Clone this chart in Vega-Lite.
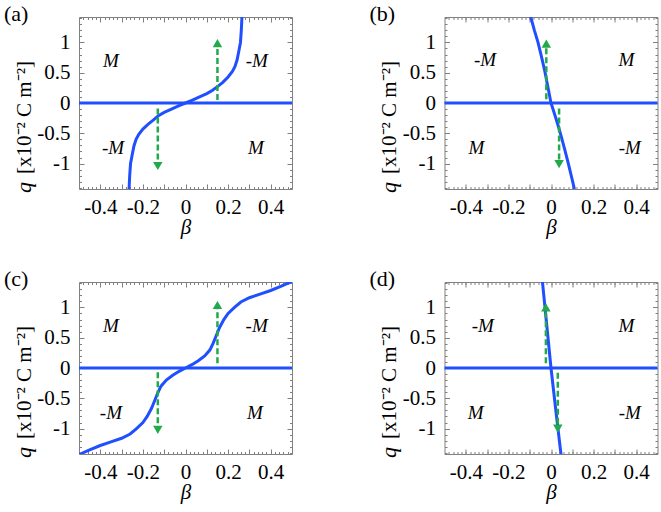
{
  "$schema": "https://vega.github.io/schema/vega-lite/v6.json",
  "background": "white",
  "padding": {"left": 3, "top": 2, "right": 2, "bottom": 2},
  "datasets": {
    "curves": [
      {"p":"a","beta":-0.265,"q":-1.42},{"p":"a","beta":-0.262,"q":-1.2},{"p":"a","beta":-0.258,"q":-1.0},{"p":"a","beta":-0.25,"q":-0.85},{"p":"a","beta":-0.242,"q":-0.71},{"p":"a","beta":-0.232,"q":-0.6},{"p":"a","beta":-0.22,"q":-0.52},{"p":"a","beta":-0.2,"q":-0.43},{"p":"a","beta":-0.175,"q":-0.35},{"p":"a","beta":-0.15,"q":-0.28},{"p":"a","beta":-0.127,"q":-0.21},{"p":"a","beta":-0.1,"q":-0.155},{"p":"a","beta":-0.066,"q":-0.1},{"p":"a","beta":-0.03,"q":-0.045},{"p":"a","beta":0,"q":0},{"p":"a","beta":0.03,"q":0.045},{"p":"a","beta":0.066,"q":0.1},{"p":"a","beta":0.1,"q":0.155},{"p":"a","beta":0.127,"q":0.21},{"p":"a","beta":0.15,"q":0.27},{"p":"a","beta":0.175,"q":0.34},{"p":"a","beta":0.2,"q":0.43},{"p":"a","beta":0.22,"q":0.52},{"p":"a","beta":0.232,"q":0.6},{"p":"a","beta":0.242,"q":0.71},{"p":"a","beta":0.25,"q":0.85},{"p":"a","beta":0.258,"q":1.0},{"p":"a","beta":0.262,"q":1.2},{"p":"a","beta":0.265,"q":1.42},
      {"p":"b","beta":-0.095,"q":1.42},{"p":"b","beta":-0.078,"q":1.2},{"p":"b","beta":-0.061,"q":1.0},{"p":"b","beta":-0.045,"q":0.77},{"p":"b","beta":-0.03,"q":0.54},{"p":"b","beta":-0.015,"q":0.27},{"p":"b","beta":0,"q":0},{"p":"b","beta":0.02,"q":-0.22},{"p":"b","beta":0.034,"q":-0.38},{"p":"b","beta":0.048,"q":-0.55},{"p":"b","beta":0.064,"q":-0.76},{"p":"b","beta":0.08,"q":-0.98},{"p":"b","beta":0.095,"q":-1.2},{"p":"b","beta":0.11,"q":-1.42},
      {"p":"c","beta":-0.5,"q":-1.43},{"p":"c","beta":-0.45,"q":-1.35},{"p":"c","beta":-0.4,"q":-1.28},{"p":"c","beta":-0.35,"q":-1.22},{"p":"c","beta":-0.3,"q":-1.16},{"p":"c","beta":-0.26,"q":-1.09},{"p":"c","beta":-0.23,"q":-1.0},{"p":"c","beta":-0.2,"q":-0.9},{"p":"c","beta":-0.18,"q":-0.8},{"p":"c","beta":-0.16,"q":-0.67},{"p":"c","beta":-0.145,"q":-0.54},{"p":"c","beta":-0.13,"q":-0.41},{"p":"c","beta":-0.115,"q":-0.3},{"p":"c","beta":-0.09,"q":-0.2},{"p":"c","beta":-0.06,"q":-0.12},{"p":"c","beta":-0.03,"q":-0.055},{"p":"c","beta":0,"q":0},{"p":"c","beta":0.03,"q":0.055},{"p":"c","beta":0.06,"q":0.12},{"p":"c","beta":0.09,"q":0.2},{"p":"c","beta":0.115,"q":0.3},{"p":"c","beta":0.13,"q":0.41},{"p":"c","beta":0.145,"q":0.54},{"p":"c","beta":0.16,"q":0.67},{"p":"c","beta":0.18,"q":0.8},{"p":"c","beta":0.2,"q":0.9},{"p":"c","beta":0.23,"q":1.0},{"p":"c","beta":0.26,"q":1.09},{"p":"c","beta":0.3,"q":1.16},{"p":"c","beta":0.35,"q":1.22},{"p":"c","beta":0.4,"q":1.28},{"p":"c","beta":0.45,"q":1.35},{"p":"c","beta":0.5,"q":1.43},
      {"p":"d","beta":-0.04,"q":1.42},{"p":"d","beta":-0.02,"q":0.71},{"p":"d","beta":0,"q":0},{"p":"d","beta":0.023,"q":-0.71},{"p":"d","beta":0.047,"q":-1.43}
    ],
    "arrows": [
      {"p":"a","x":0.15,"y0":0.05,"y1":0.99,"dir":"up"},{"p":"a","x":-0.13,"y0":-0.09,"y1":-1.04,"dir":"down"},
      {"p":"b","x":-0.022,"y0":0.06,"y1":0.98,"dir":"up"},{"p":"b","x":0.038,"y0":-0.09,"y1":-1.01,"dir":"down"},
      {"p":"c","x":0.15,"y0":0.08,"y1":1.04,"dir":"up"},{"p":"c","x":-0.13,"y0":-0.07,"y1":-1.02,"dir":"down"},
      {"p":"d","x":-0.024,"y0":0.08,"y1":1.0,"dir":"up"},{"p":"d","x":0.032,"y0":-0.08,"y1":-1.0,"dir":"down"}
    ],
    "labels": [
      {"p":"a","x":-0.35,"y":0.7,"t":"M"},{"p":"a","x":0.335,"y":0.7,"t":"-M"},{"p":"a","x":-0.34,"y":-0.75,"t":"-M"},{"p":"a","x":0.33,"y":-0.75,"t":"M"},
      {"p":"b","x":-0.31,"y":0.71,"t":"-M"},{"p":"b","x":0.354,"y":0.71,"t":"M"},{"p":"b","x":-0.35,"y":-0.75,"t":"M"},{"p":"b","x":0.37,"y":-0.75,"t":"-M"},
      {"p":"c","x":-0.35,"y":0.69,"t":"M"},{"p":"c","x":0.334,"y":0.69,"t":"-M"},{"p":"c","x":-0.35,"y":-0.75,"t":"-M"},{"p":"c","x":0.326,"y":-0.75,"t":"M"},
      {"p":"d","x":-0.32,"y":0.69,"t":"-M"},{"p":"d","x":0.354,"y":0.69,"t":"M"},{"p":"d","x":-0.354,"y":-0.75,"t":"M"},{"p":"d","x":0.37,"y":-0.75,"t":"-M"}
    ]
  },
  "columns": 2,
  "bounds": "flush",
  "spacing": {"row": 93, "column": 152.5},
  "concat": [
    {
      "width": 213, "height": 172,
      "title": {"text": "(a)", "anchor": "start", "frame": "group", "dx": -75, "dy": 5, "offset": -21, "baseline": "alphabetic", "font": "Liberation Serif", "fontSize": 22, "fontWeight": "normal", "color": "black"},
      "layer": [
        {"data": {"values": [{}]}, "mark": {"type": "rule", "color": "#1f4fff", "strokeWidth": 3}, "encoding": {"y": {"datum": 0, "type": "quantitative", "scale": {"domain": [-1.42, 1.42], "nice": false, "zero": false}, "axis": null}}},
        {"data": {"name": "curves"}, "transform": [{"filter": "datum.p == 'a'"}], "mark": {"type": "line", "color": "#1f4fff", "strokeWidth": 3, "clip": true},
         "encoding": {
           "x": {"field": "beta", "type": "quantitative", "scale": {"domain": [-0.5, 0.5], "nice": false, "zero": false}, "axis": {"orient": "bottom", "values": [-0.4,-0.3,-0.2,-0.1,0,0.1,0.2,0.3,0.4], "labelExpr": "round(datum.value*10) % 2 == 0 ? '' + datum.value : ''", "tickSize": -5, "labelPadding": 29, "labelBaseline": "alphabetic", "title": "β", "titleFontStyle": "italic", "titleFontSize": 21, "titleBaseline": "alphabetic", "titleY": 44}},
           "y": {"field": "q", "type": "quantitative", "scale": {"domain": [-1.42, 1.42], "nice": false, "zero": false}, "axis": {"orient": "left", "values": [-1,-0.5,0,0.5,1], "labelExpr": "'' + datum.value", "tickSize": -5, "labelPadding": 14, "title": "[x10⁻² C m⁻²]", "titleFontSize": 21, "titleBaseline": "alphabetic", "titleAngle": -90, "titleX": -49, "titleY": 100}}
         }},
        {"data": {"name": "arrows"}, "transform": [{"filter": "datum.p == 'a'"}], "mark": {"type": "rule", "color": "#22aa4a", "strokeWidth": 2.5, "strokeDash": [6, 3]},
         "encoding": {
           "x": {"field": "x", "type": "quantitative", "scale": {"domain": [-0.5, 0.5], "nice": false, "zero": false}, "axis": {"orient": "bottom", "values": [-0.48,-0.46,-0.44,-0.42,-0.4,-0.38,-0.36,-0.34,-0.32,-0.3,-0.28,-0.26,-0.24,-0.22,-0.2,-0.18,-0.16,-0.14,-0.12,-0.1,-0.08,-0.06,-0.04,-0.02,0,0.02,0.04,0.06,0.08,0.1,0.12,0.14,0.16,0.18,0.2,0.22,0.24,0.26,0.28,0.3,0.32,0.34,0.36,0.38,0.4,0.42,0.44,0.46,0.48], "labels": false, "tickSize": -2.5, "title": null}},
           "y": {"field": "y0", "type": "quantitative", "scale": {"domain": [-1.42, 1.42], "nice": false, "zero": false}, "axis": {"orient": "left", "values": [-1.4,-1.3,-1.2,-1.1,-1,-0.9,-0.8,-0.7,-0.6,-0.5,-0.4,-0.3,-0.2,-0.1,0,0.1,0.2,0.3,0.4,0.5,0.6,0.7,0.8,0.9,1,1.1,1.2,1.3,1.4], "labels": false, "tickSize": -2.5, "title": "q", "titleFontStyle": "italic", "titleFontSize": 22, "titleBaseline": "alphabetic", "titleAngle": -90, "titleX": -49, "titleY": 170}},
           "y2": {"field": "y1"}
         }},
        {"data": {"name": "arrows"}, "transform": [{"filter": "datum.p == 'a'"}], "mark": {"type": "point", "filled": true, "color": "#22aa4a", "size": 90, "opacity": 1},
         "encoding": {
           "x": {"field": "x", "type": "quantitative", "scale": {"domain": [-0.5, 0.5], "nice": false, "zero": false}, "axis": {"orient": "top", "values": [-0.4,-0.3,-0.2,-0.1,0,0.1,0.2,0.3,0.4], "labels": false, "tickSize": -5, "title": null}},
           "y": {"field": "y1", "type": "quantitative", "scale": {"domain": [-1.42, 1.42], "nice": false, "zero": false}, "axis": {"orient": "right", "values": [-1,-0.5,0,0.5,1], "labels": false, "tickSize": -5, "title": null}},
           "shape": {"field": "dir", "type": "nominal", "scale": {"domain": ["up", "down"], "range": ["triangle-up", "triangle-down"]}, "legend": null}
         }},
        {"data": {"name": "labels"}, "transform": [{"filter": "datum.p == 'a'"}], "mark": {"type": "text", "font": "Liberation Serif", "fontStyle": "italic", "fontSize": 19, "color": "black"},
         "encoding": {
           "x": {"field": "x", "type": "quantitative", "scale": {"domain": [-0.5, 0.5], "nice": false, "zero": false}, "axis": {"orient": "top", "values": [-0.48,-0.46,-0.44,-0.42,-0.4,-0.38,-0.36,-0.34,-0.32,-0.3,-0.28,-0.26,-0.24,-0.22,-0.2,-0.18,-0.16,-0.14,-0.12,-0.1,-0.08,-0.06,-0.04,-0.02,0,0.02,0.04,0.06,0.08,0.1,0.12,0.14,0.16,0.18,0.2,0.22,0.24,0.26,0.28,0.3,0.32,0.34,0.36,0.38,0.4,0.42,0.44,0.46,0.48], "labels": false, "tickSize": -2.5, "title": null}},
           "y": {"field": "y", "type": "quantitative", "scale": {"domain": [-1.42, 1.42], "nice": false, "zero": false}, "axis": {"orient": "right", "values": [-1.4,-1.3,-1.2,-1.1,-1,-0.9,-0.8,-0.7,-0.6,-0.5,-0.4,-0.3,-0.2,-0.1,0,0.1,0.2,0.3,0.4,0.5,0.6,0.7,0.8,0.9,1,1.1,1.2,1.3,1.4], "labels": false, "tickSize": -2.5, "title": null}},
           "text": {"field": "t"}
         }}
      ],
      "resolve": {"axis": {"x": "independent", "y": "independent"}}
    },
    {
      "width": 213, "height": 172,
      "title": {"text": "(b)", "anchor": "start", "frame": "group", "dx": -75, "dy": 5, "offset": -21, "baseline": "alphabetic", "font": "Liberation Serif", "fontSize": 22, "fontWeight": "normal", "color": "black"},
      "layer": [
        {"data": {"values": [{}]}, "mark": {"type": "rule", "color": "#1f4fff", "strokeWidth": 3}, "encoding": {"y": {"datum": 0, "type": "quantitative", "scale": {"domain": [-1.42, 1.42], "nice": false, "zero": false}, "axis": null}}},
        {"data": {"name": "curves"}, "transform": [{"filter": "datum.p == 'b'"}], "mark": {"type": "line", "color": "#1f4fff", "strokeWidth": 3, "clip": true},
         "encoding": {
           "x": {"field": "beta", "type": "quantitative", "scale": {"domain": [-0.5, 0.5], "nice": false, "zero": false}, "axis": {"orient": "bottom", "values": [-0.4,-0.3,-0.2,-0.1,0,0.1,0.2,0.3,0.4], "labelExpr": "round(datum.value*10) % 2 == 0 ? '' + datum.value : ''", "tickSize": -5, "labelPadding": 29, "labelBaseline": "alphabetic", "title": "β", "titleFontStyle": "italic", "titleFontSize": 21, "titleBaseline": "alphabetic", "titleY": 44}},
           "y": {"field": "q", "type": "quantitative", "scale": {"domain": [-1.42, 1.42], "nice": false, "zero": false}, "axis": {"orient": "left", "values": [-1,-0.5,0,0.5,1], "labelExpr": "'' + datum.value", "tickSize": -5, "labelPadding": 14, "title": "[x10⁻² C m⁻²]", "titleFontSize": 21, "titleBaseline": "alphabetic", "titleAngle": -90, "titleX": -49, "titleY": 100}}
         }},
        {"data": {"name": "arrows"}, "transform": [{"filter": "datum.p == 'b'"}], "mark": {"type": "rule", "color": "#22aa4a", "strokeWidth": 2.5, "strokeDash": [6, 3]},
         "encoding": {
           "x": {"field": "x", "type": "quantitative", "scale": {"domain": [-0.5, 0.5], "nice": false, "zero": false}, "axis": {"orient": "bottom", "values": [-0.48,-0.46,-0.44,-0.42,-0.4,-0.38,-0.36,-0.34,-0.32,-0.3,-0.28,-0.26,-0.24,-0.22,-0.2,-0.18,-0.16,-0.14,-0.12,-0.1,-0.08,-0.06,-0.04,-0.02,0,0.02,0.04,0.06,0.08,0.1,0.12,0.14,0.16,0.18,0.2,0.22,0.24,0.26,0.28,0.3,0.32,0.34,0.36,0.38,0.4,0.42,0.44,0.46,0.48], "labels": false, "tickSize": -2.5, "title": null}},
           "y": {"field": "y0", "type": "quantitative", "scale": {"domain": [-1.42, 1.42], "nice": false, "zero": false}, "axis": {"orient": "left", "values": [-1.4,-1.3,-1.2,-1.1,-1,-0.9,-0.8,-0.7,-0.6,-0.5,-0.4,-0.3,-0.2,-0.1,0,0.1,0.2,0.3,0.4,0.5,0.6,0.7,0.8,0.9,1,1.1,1.2,1.3,1.4], "labels": false, "tickSize": -2.5, "title": "q", "titleFontStyle": "italic", "titleFontSize": 22, "titleBaseline": "alphabetic", "titleAngle": -90, "titleX": -49, "titleY": 170}},
           "y2": {"field": "y1"}
         }},
        {"data": {"name": "arrows"}, "transform": [{"filter": "datum.p == 'b'"}], "mark": {"type": "point", "filled": true, "color": "#22aa4a", "size": 90, "opacity": 1},
         "encoding": {
           "x": {"field": "x", "type": "quantitative", "scale": {"domain": [-0.5, 0.5], "nice": false, "zero": false}, "axis": {"orient": "top", "values": [-0.4,-0.3,-0.2,-0.1,0,0.1,0.2,0.3,0.4], "labels": false, "tickSize": -5, "title": null}},
           "y": {"field": "y1", "type": "quantitative", "scale": {"domain": [-1.42, 1.42], "nice": false, "zero": false}, "axis": {"orient": "right", "values": [-1,-0.5,0,0.5,1], "labels": false, "tickSize": -5, "title": null}},
           "shape": {"field": "dir", "type": "nominal", "scale": {"domain": ["up", "down"], "range": ["triangle-up", "triangle-down"]}, "legend": null}
         }},
        {"data": {"name": "labels"}, "transform": [{"filter": "datum.p == 'b'"}], "mark": {"type": "text", "font": "Liberation Serif", "fontStyle": "italic", "fontSize": 19, "color": "black"},
         "encoding": {
           "x": {"field": "x", "type": "quantitative", "scale": {"domain": [-0.5, 0.5], "nice": false, "zero": false}, "axis": {"orient": "top", "values": [-0.48,-0.46,-0.44,-0.42,-0.4,-0.38,-0.36,-0.34,-0.32,-0.3,-0.28,-0.26,-0.24,-0.22,-0.2,-0.18,-0.16,-0.14,-0.12,-0.1,-0.08,-0.06,-0.04,-0.02,0,0.02,0.04,0.06,0.08,0.1,0.12,0.14,0.16,0.18,0.2,0.22,0.24,0.26,0.28,0.3,0.32,0.34,0.36,0.38,0.4,0.42,0.44,0.46,0.48], "labels": false, "tickSize": -2.5, "title": null}},
           "y": {"field": "y", "type": "quantitative", "scale": {"domain": [-1.42, 1.42], "nice": false, "zero": false}, "axis": {"orient": "right", "values": [-1.4,-1.3,-1.2,-1.1,-1,-0.9,-0.8,-0.7,-0.6,-0.5,-0.4,-0.3,-0.2,-0.1,0,0.1,0.2,0.3,0.4,0.5,0.6,0.7,0.8,0.9,1,1.1,1.2,1.3,1.4], "labels": false, "tickSize": -2.5, "title": null}},
           "text": {"field": "t"}
         }}
      ],
      "resolve": {"axis": {"x": "independent", "y": "independent"}}
    },
    {
      "width": 213, "height": 172,
      "title": {"text": "(c)", "anchor": "start", "frame": "group", "dx": -75, "dy": 5, "offset": -21, "baseline": "alphabetic", "font": "Liberation Serif", "fontSize": 22, "fontWeight": "normal", "color": "black"},
      "layer": [
        {"data": {"values": [{}]}, "mark": {"type": "rule", "color": "#1f4fff", "strokeWidth": 3}, "encoding": {"y": {"datum": 0, "type": "quantitative", "scale": {"domain": [-1.42, 1.42], "nice": false, "zero": false}, "axis": null}}},
        {"data": {"name": "curves"}, "transform": [{"filter": "datum.p == 'c'"}], "mark": {"type": "line", "color": "#1f4fff", "strokeWidth": 3, "clip": true},
         "encoding": {
           "x": {"field": "beta", "type": "quantitative", "scale": {"domain": [-0.5, 0.5], "nice": false, "zero": false}, "axis": {"orient": "bottom", "values": [-0.4,-0.3,-0.2,-0.1,0,0.1,0.2,0.3,0.4], "labelExpr": "round(datum.value*10) % 2 == 0 ? '' + datum.value : ''", "tickSize": -5, "labelPadding": 29, "labelBaseline": "alphabetic", "title": "β", "titleFontStyle": "italic", "titleFontSize": 21, "titleBaseline": "alphabetic", "titleY": 44}},
           "y": {"field": "q", "type": "quantitative", "scale": {"domain": [-1.42, 1.42], "nice": false, "zero": false}, "axis": {"orient": "left", "values": [-1,-0.5,0,0.5,1], "labelExpr": "'' + datum.value", "tickSize": -5, "labelPadding": 14, "title": "[x10⁻² C m⁻²]", "titleFontSize": 21, "titleBaseline": "alphabetic", "titleAngle": -90, "titleX": -49, "titleY": 100}}
         }},
        {"data": {"name": "arrows"}, "transform": [{"filter": "datum.p == 'c'"}], "mark": {"type": "rule", "color": "#22aa4a", "strokeWidth": 2.5, "strokeDash": [6, 3]},
         "encoding": {
           "x": {"field": "x", "type": "quantitative", "scale": {"domain": [-0.5, 0.5], "nice": false, "zero": false}, "axis": {"orient": "bottom", "values": [-0.48,-0.46,-0.44,-0.42,-0.4,-0.38,-0.36,-0.34,-0.32,-0.3,-0.28,-0.26,-0.24,-0.22,-0.2,-0.18,-0.16,-0.14,-0.12,-0.1,-0.08,-0.06,-0.04,-0.02,0,0.02,0.04,0.06,0.08,0.1,0.12,0.14,0.16,0.18,0.2,0.22,0.24,0.26,0.28,0.3,0.32,0.34,0.36,0.38,0.4,0.42,0.44,0.46,0.48], "labels": false, "tickSize": -2.5, "title": null}},
           "y": {"field": "y0", "type": "quantitative", "scale": {"domain": [-1.42, 1.42], "nice": false, "zero": false}, "axis": {"orient": "left", "values": [-1.4,-1.3,-1.2,-1.1,-1,-0.9,-0.8,-0.7,-0.6,-0.5,-0.4,-0.3,-0.2,-0.1,0,0.1,0.2,0.3,0.4,0.5,0.6,0.7,0.8,0.9,1,1.1,1.2,1.3,1.4], "labels": false, "tickSize": -2.5, "title": "q", "titleFontStyle": "italic", "titleFontSize": 22, "titleBaseline": "alphabetic", "titleAngle": -90, "titleX": -49, "titleY": 170}},
           "y2": {"field": "y1"}
         }},
        {"data": {"name": "arrows"}, "transform": [{"filter": "datum.p == 'c'"}], "mark": {"type": "point", "filled": true, "color": "#22aa4a", "size": 90, "opacity": 1},
         "encoding": {
           "x": {"field": "x", "type": "quantitative", "scale": {"domain": [-0.5, 0.5], "nice": false, "zero": false}, "axis": {"orient": "top", "values": [-0.4,-0.3,-0.2,-0.1,0,0.1,0.2,0.3,0.4], "labels": false, "tickSize": -5, "title": null}},
           "y": {"field": "y1", "type": "quantitative", "scale": {"domain": [-1.42, 1.42], "nice": false, "zero": false}, "axis": {"orient": "right", "values": [-1,-0.5,0,0.5,1], "labels": false, "tickSize": -5, "title": null}},
           "shape": {"field": "dir", "type": "nominal", "scale": {"domain": ["up", "down"], "range": ["triangle-up", "triangle-down"]}, "legend": null}
         }},
        {"data": {"name": "labels"}, "transform": [{"filter": "datum.p == 'c'"}], "mark": {"type": "text", "font": "Liberation Serif", "fontStyle": "italic", "fontSize": 19, "color": "black"},
         "encoding": {
           "x": {"field": "x", "type": "quantitative", "scale": {"domain": [-0.5, 0.5], "nice": false, "zero": false}, "axis": {"orient": "top", "values": [-0.48,-0.46,-0.44,-0.42,-0.4,-0.38,-0.36,-0.34,-0.32,-0.3,-0.28,-0.26,-0.24,-0.22,-0.2,-0.18,-0.16,-0.14,-0.12,-0.1,-0.08,-0.06,-0.04,-0.02,0,0.02,0.04,0.06,0.08,0.1,0.12,0.14,0.16,0.18,0.2,0.22,0.24,0.26,0.28,0.3,0.32,0.34,0.36,0.38,0.4,0.42,0.44,0.46,0.48], "labels": false, "tickSize": -2.5, "title": null}},
           "y": {"field": "y", "type": "quantitative", "scale": {"domain": [-1.42, 1.42], "nice": false, "zero": false}, "axis": {"orient": "right", "values": [-1.4,-1.3,-1.2,-1.1,-1,-0.9,-0.8,-0.7,-0.6,-0.5,-0.4,-0.3,-0.2,-0.1,0,0.1,0.2,0.3,0.4,0.5,0.6,0.7,0.8,0.9,1,1.1,1.2,1.3,1.4], "labels": false, "tickSize": -2.5, "title": null}},
           "text": {"field": "t"}
         }}
      ],
      "resolve": {"axis": {"x": "independent", "y": "independent"}}
    },
    {
      "width": 213, "height": 172,
      "title": {"text": "(d)", "anchor": "start", "frame": "group", "dx": -75, "dy": 5, "offset": -21, "baseline": "alphabetic", "font": "Liberation Serif", "fontSize": 22, "fontWeight": "normal", "color": "black"},
      "layer": [
        {"data": {"values": [{}]}, "mark": {"type": "rule", "color": "#1f4fff", "strokeWidth": 3}, "encoding": {"y": {"datum": 0, "type": "quantitative", "scale": {"domain": [-1.42, 1.42], "nice": false, "zero": false}, "axis": null}}},
        {"data": {"name": "curves"}, "transform": [{"filter": "datum.p == 'd'"}], "mark": {"type": "line", "color": "#1f4fff", "strokeWidth": 3, "clip": true},
         "encoding": {
           "x": {"field": "beta", "type": "quantitative", "scale": {"domain": [-0.5, 0.5], "nice": false, "zero": false}, "axis": {"orient": "bottom", "values": [-0.4,-0.3,-0.2,-0.1,0,0.1,0.2,0.3,0.4], "labelExpr": "round(datum.value*10) % 2 == 0 ? '' + datum.value : ''", "tickSize": -5, "labelPadding": 29, "labelBaseline": "alphabetic", "title": "β", "titleFontStyle": "italic", "titleFontSize": 21, "titleBaseline": "alphabetic", "titleY": 44}},
           "y": {"field": "q", "type": "quantitative", "scale": {"domain": [-1.42, 1.42], "nice": false, "zero": false}, "axis": {"orient": "left", "values": [-1,-0.5,0,0.5,1], "labelExpr": "'' + datum.value", "tickSize": -5, "labelPadding": 14, "title": "[x10⁻² C m⁻²]", "titleFontSize": 21, "titleBaseline": "alphabetic", "titleAngle": -90, "titleX": -49, "titleY": 100}}
         }},
        {"data": {"name": "arrows"}, "transform": [{"filter": "datum.p == 'd'"}], "mark": {"type": "rule", "color": "#22aa4a", "strokeWidth": 2.5, "strokeDash": [6, 3]},
         "encoding": {
           "x": {"field": "x", "type": "quantitative", "scale": {"domain": [-0.5, 0.5], "nice": false, "zero": false}, "axis": {"orient": "bottom", "values": [-0.48,-0.46,-0.44,-0.42,-0.4,-0.38,-0.36,-0.34,-0.32,-0.3,-0.28,-0.26,-0.24,-0.22,-0.2,-0.18,-0.16,-0.14,-0.12,-0.1,-0.08,-0.06,-0.04,-0.02,0,0.02,0.04,0.06,0.08,0.1,0.12,0.14,0.16,0.18,0.2,0.22,0.24,0.26,0.28,0.3,0.32,0.34,0.36,0.38,0.4,0.42,0.44,0.46,0.48], "labels": false, "tickSize": -2.5, "title": null}},
           "y": {"field": "y0", "type": "quantitative", "scale": {"domain": [-1.42, 1.42], "nice": false, "zero": false}, "axis": {"orient": "left", "values": [-1.4,-1.3,-1.2,-1.1,-1,-0.9,-0.8,-0.7,-0.6,-0.5,-0.4,-0.3,-0.2,-0.1,0,0.1,0.2,0.3,0.4,0.5,0.6,0.7,0.8,0.9,1,1.1,1.2,1.3,1.4], "labels": false, "tickSize": -2.5, "title": "q", "titleFontStyle": "italic", "titleFontSize": 22, "titleBaseline": "alphabetic", "titleAngle": -90, "titleX": -49, "titleY": 170}},
           "y2": {"field": "y1"}
         }},
        {"data": {"name": "arrows"}, "transform": [{"filter": "datum.p == 'd'"}], "mark": {"type": "point", "filled": true, "color": "#22aa4a", "size": 90, "opacity": 1},
         "encoding": {
           "x": {"field": "x", "type": "quantitative", "scale": {"domain": [-0.5, 0.5], "nice": false, "zero": false}, "axis": {"orient": "top", "values": [-0.4,-0.3,-0.2,-0.1,0,0.1,0.2,0.3,0.4], "labels": false, "tickSize": -5, "title": null}},
           "y": {"field": "y1", "type": "quantitative", "scale": {"domain": [-1.42, 1.42], "nice": false, "zero": false}, "axis": {"orient": "right", "values": [-1,-0.5,0,0.5,1], "labels": false, "tickSize": -5, "title": null}},
           "shape": {"field": "dir", "type": "nominal", "scale": {"domain": ["up", "down"], "range": ["triangle-up", "triangle-down"]}, "legend": null}
         }},
        {"data": {"name": "labels"}, "transform": [{"filter": "datum.p == 'd'"}], "mark": {"type": "text", "font": "Liberation Serif", "fontStyle": "italic", "fontSize": 19, "color": "black"},
         "encoding": {
           "x": {"field": "x", "type": "quantitative", "scale": {"domain": [-0.5, 0.5], "nice": false, "zero": false}, "axis": {"orient": "top", "values": [-0.48,-0.46,-0.44,-0.42,-0.4,-0.38,-0.36,-0.34,-0.32,-0.3,-0.28,-0.26,-0.24,-0.22,-0.2,-0.18,-0.16,-0.14,-0.12,-0.1,-0.08,-0.06,-0.04,-0.02,0,0.02,0.04,0.06,0.08,0.1,0.12,0.14,0.16,0.18,0.2,0.22,0.24,0.26,0.28,0.3,0.32,0.34,0.36,0.38,0.4,0.42,0.44,0.46,0.48], "labels": false, "tickSize": -2.5, "title": null}},
           "y": {"field": "y", "type": "quantitative", "scale": {"domain": [-1.42, 1.42], "nice": false, "zero": false}, "axis": {"orient": "right", "values": [-1.4,-1.3,-1.2,-1.1,-1,-0.9,-0.8,-0.7,-0.6,-0.5,-0.4,-0.3,-0.2,-0.1,0,0.1,0.2,0.3,0.4,0.5,0.6,0.7,0.8,0.9,1,1.1,1.2,1.3,1.4], "labels": false, "tickSize": -2.5, "title": null}},
           "text": {"field": "t"}
         }}
      ],
      "resolve": {"axis": {"x": "independent", "y": "independent"}}
    }
  ],
  "config": {
    "view": {"stroke": "#808080", "strokeWidth": 1},
    "axis": {"domain": false, "grid": false, "tickColor": "#808080", "tickWidth": 1, "labelFont": "Liberation Serif", "labelFontSize": 21, "labelColor": "black", "titleFont": "Liberation Serif", "titleFontWeight": "normal", "titleColor": "black", "labelFlush": false, "labelOverlap": false, "labelBound": false}
  }
}
